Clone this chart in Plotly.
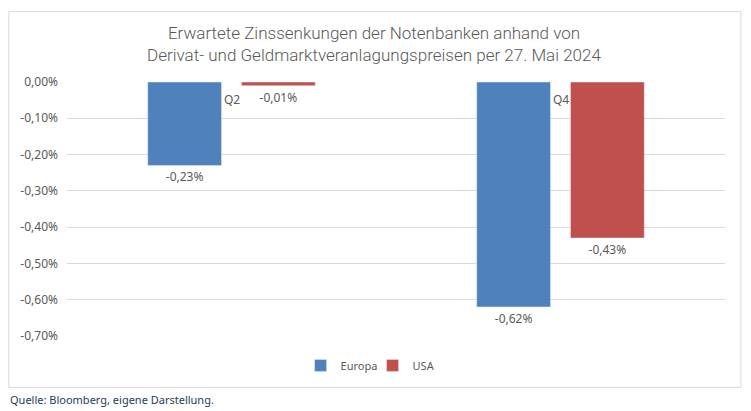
import plotly.graph_objects as go

categories = ["Q2", "Q4"]
europa = [-0.23, -0.62]
usa = [-0.01, -0.43]
tick_vals = [0, -0.1, -0.2, -0.3, -0.4, -0.5, -0.6, -0.7]
tick_text = ["0,00%", "-0,10%", "-0,20%", "-0,30%", "-0,40%", "-0,50%", "-0,60%", "-0,70%"]

def fmt(v):
    return f"{v:.2f}".replace(".", ",") + "%"

GRAY = "#595959"
FONT = "Noto Sans"
OFF = 8  # page body margin

fig = go.Figure()
fig.add_bar(x=categories, y=europa, name="Europa", marker_color="#4f81bd",
            text=[fmt(v) for v in europa], textposition="outside",
            textfont=dict(color=GRAY, size=12, family=FONT), cliponaxis=False)
fig.add_bar(x=categories, y=usa, name="USA", marker_color="#c0504d",
            text=[fmt(v) for v in usa], textposition="outside",
            textfont=dict(color=GRAY, size=12, family=FONT), cliponaxis=False)

for c in categories:
    fig.add_annotation(x=c, y=0, xref="x", yref="y", text=c, showarrow=False,
                       yanchor="top", yshift=-7,
                       font=dict(color=GRAY, size=12, family=FONT))

W, H = 751 - OFF, 411 - OFF
L, R, T, B = 63 - OFF, 725 - OFF, 82 - OFF, 336.5 - OFF
pw, ph = R - L, B - T

def px_x(p):
    return (p - OFF - L) / pw

def px_y(p):
    return (B - (p - OFF)) / ph

fig.add_shape(type="rect", xref="paper", yref="paper",
              x0=px_x(4.5), x1=px_x(741), y0=px_y(388), y1=px_y(11.5),
              line=dict(color="#d9d9d9", width=1), fillcolor="rgba(0,0,0,0)", layer="below")

fig.add_annotation(xref="paper", yref="paper", x=px_x(4), y=px_y(400),
                   xanchor="left", yanchor="middle", showarrow=False,
                   text="Quelle: Bloomberg, eigene Darstellung.",
                   font=dict(color="#1f3b57", size=11, family=FONT))

fig.update_layout(
    width=W, height=H,
    margin=dict(l=L, r=W - R, t=T, b=H - B),
    paper_bgcolor="white", plot_bgcolor="white",
    title=dict(text="Erwartete Zinssenkungen der Notenbanken anhand von<br>Derivat- und Geldmarktveranlagungspreisen per 27. Mai 2024",
               x=(374 - OFF) / W, xanchor="center", y=1 - (39 - OFF) / H, yanchor="middle",
               font=dict(color=GRAY, size=17, weight=300, family="Roboto")),
    barmode="group", bargap=0.43, bargroupgap=0.213,
    showlegend=True,
    legend=dict(orientation="h", x=px_x(298), xanchor="left", y=px_y(366), yanchor="middle",
                font=dict(color=GRAY, size=11, family=FONT), itemwidth=30,
                entrywidth=27, entrywidthmode="pixels", traceorder="normal"),
    xaxis=dict(showticklabels=False, showgrid=False, zeroline=False, showline=False),
    yaxis=dict(range=[-0.7, 0], tickvals=tick_vals, ticktext=tick_text,
               showgrid=True, gridcolor="#d9d9d9", gridwidth=1, zeroline=False,
               tickfont=dict(color=GRAY, size=12, family=FONT), ticklabelstandoff=8),
    font=dict(family=FONT),
)

fig.write_html("out.html")
